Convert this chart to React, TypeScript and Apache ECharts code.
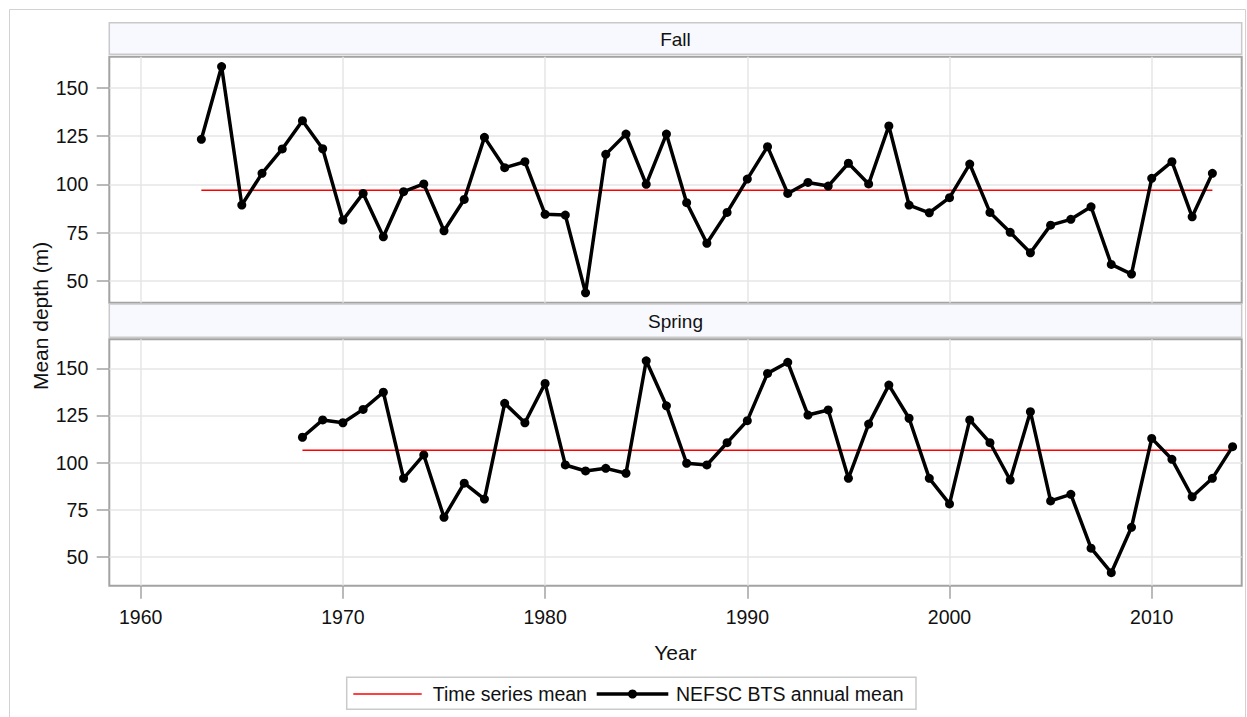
import React, { useEffect, useRef } from "react";
import * as echarts from "echarts";

const fallYears = [1963, 1964, 1965, 1966, 1967, 1968, 1969, 1970, 1971, 1972, 1973, 1974, 1975, 1976, 1977, 1978, 1979, 1980, 1981, 1982, 1983, 1984, 1985, 1986, 1987, 1988, 1989, 1990, 1991, 1992, 1993, 1994, 1995, 1996, 1997, 1998, 1999, 2000, 2001, 2002, 2003, 2004, 2005, 2006, 2007, 2008, 2009, 2010, 2011, 2012, 2013];
const fallDepth = [123.3, 160.9, 89.3, 105.7, 118.3, 132.9, 118.4, 81.5, 95.3, 72.9, 96.2, 100.2, 76.0, 92.2, 124.3, 108.6, 111.7, 84.5, 84.1, 43.9, 115.5, 126.0, 100.0, 126.0, 90.5, 69.5, 85.5, 102.7, 119.5, 95.3, 101.0, 99.1, 110.9, 100.2, 130.2, 89.3, 85.3, 93.1, 110.5, 85.5, 75.2, 64.6, 78.9, 81.9, 88.4, 58.6, 53.6, 103.1, 111.7, 83.2, 105.7];
const fallMean = 97.0;

const springYears = [1968, 1969, 1970, 1971, 1972, 1973, 1974, 1975, 1976, 1977, 1978, 1979, 1980, 1981, 1982, 1983, 1984, 1985, 1986, 1987, 1988, 1989, 1990, 1991, 1992, 1993, 1994, 1995, 1996, 1997, 1998, 1999, 2000, 2001, 2002, 2003, 2004, 2005, 2006, 2007, 2008, 2009, 2010, 2011, 2012, 2013, 2014];
const springDepth = [113.4, 122.6, 121.1, 128.2, 137.3, 91.6, 104.0, 70.9, 89.0, 80.6, 131.4, 121.1, 142.0, 98.7, 95.5, 96.9, 94.3, 154.0, 130.1, 99.6, 98.7, 110.5, 122.2, 147.3, 153.2, 125.2, 127.9, 91.6, 120.4, 141.1, 123.5, 91.6, 78.0, 122.6, 110.5, 90.7, 127.0, 79.6, 83.1, 54.5, 41.5, 65.6, 112.8, 101.7, 81.8, 91.6, 108.4];
const springMean = 106.5;

const xTicks = [1960, 1970, 1980, 1990, 2000, 2010];
const yTicks = [50, 75, 100, 125, 150];
const panelTitles = ["Fall", "Spring"];
const legendLabels = ["Time series mean", "NEFSC BTS annual mean"];
const xTitle = "Year";
const yTitle = "Mean depth (m)";

const FONT = "Liberation Sans, Arial, Helvetica, sans-serif";

export default function App() {
  const ref = useRef<HTMLDivElement>(null);
  useEffect(() => {
    if (!ref.current) return;
    const chart = echarts.init(ref.current, null, { renderer: "svg" });

    const pairs = (xs: number[], ys: number[]) => xs.map((x, i) => [x, ys[i]]);
    const meanLine = (xs: number[], m: number) => [[xs[0], m], [xs[xs.length - 1], m]];

    const L = 109.3, W = 1132.4;
    const grids = [
      { top: 56.7, height: 246 },
      { top: 339.3, height: 246.4 },
    ];
    const headers = [
      { y: 22.7, h: 31.6 },
      { y: 304, h: 33.3 },
    ];
    const yRanges = [
      { min: 38.8, max: 166.0 },
      { min: 34.6, max: 165.4 },
    ];
    const txt = "#111";
    const gridColor = "#E6E6E6";
    const frame = "#A3A3A3";

    const graphic: any[] = [
      {
        type: "rect", z: -10,
        shape: { x: 9.5, y: 9.5, width: 1236, height: 720 },
        style: { fill: "#fff", stroke: "#D2D2D2", lineWidth: 1 },
      },
    ];
    headers.forEach((h, i) => {
      graphic.push({
        type: "rect", z: 1,
        shape: { x: L, y: h.y, width: W, height: h.h },
        style: { fill: "#F8F9FE", stroke: "#C9C9C9", lineWidth: 1.5 },
      });
      graphic.push({
        type: "text", z: 2,
        style: {
          text: panelTitles[i], x: L + W / 2, y: h.y + h.h / 2 + 1,
          align: "center", verticalAlign: "middle",
          fontSize: 19, fontFamily: FONT, fill: txt,
        },
      });
    });
    graphic.push({
      type: "text",
      x: 40, y: 316, rotation: Math.PI / 2,
      style: {
        text: yTitle, x: 0, y: 0, align: "center", verticalAlign: "middle",
        fontSize: 21, fontFamily: FONT, fill: txt,
      },
    });
    graphic.push({
      type: "text",
      style: {
        text: xTitle, x: L + W / 2, y: 652, align: "center", verticalAlign: "middle",
        fontSize: 21, fontFamily: FONT, fill: txt,
      },
    });
    // legend
    const ly = 694;
    graphic.push({
      type: "rect",
      shape: { x: 346.7, y: 677.3, width: 569.3, height: 32 },
      style: { fill: "#fff", stroke: "#CACACA", lineWidth: 1.5 },
    });
    graphic.push({
      type: "line",
      shape: { x1: 353.3, y1: ly, x2: 421.7, y2: ly },
      style: { stroke: "#FF0000", lineWidth: 1.5 },
    });
    graphic.push({
      type: "text",
      style: {
        text: legendLabels[0], x: 432.7, y: ly, align: "left", verticalAlign: "middle",
        fontSize: 19.5, fontFamily: FONT, fill: "#111",
      },
    });
    graphic.push({
      type: "line",
      shape: { x1: 596.7, y1: ly, x2: 668.3, y2: ly },
      style: { stroke: "#000", lineWidth: 3.5 },
    });
    graphic.push({
      type: "circle",
      shape: { cx: 632.5, cy: ly, r: 4.5 },
      style: { fill: "#000" },
    });
    graphic.push({
      type: "text",
      style: {
        text: legendLabels[1], x: 676, y: ly, align: "left", verticalAlign: "middle",
        fontSize: 19.5, fontFamily: FONT, fill: "#111",
      },
    });

    const xAxis = grids.map((_, i) => ({
      type: "value",
      gridIndex: i,
      min: 1958.447,
      max: 2014.45,
      axisLine: { show: false },
      axisTick: {
        show: i === 1, length: 13, inside: false, customValues: xTicks,
        lineStyle: { color: frame, width: 1.5 },
      },
      axisLabel: {
        show: i === 1, customValues: xTicks, margin: 21,
        fontSize: 19.5, fontFamily: FONT, color: txt,
        formatter: (v: number) => String(v),
      },
      splitLine: { show: true, lineStyle: { color: gridColor, width: 1.5 } },
    }));
    const yAxis = grids.map((_, i) => ({
      type: "value",
      gridIndex: i,
      min: yRanges[i].min,
      max: yRanges[i].max,
      axisLine: { show: false },
      axisTick: {
        show: true, length: 12.6, customValues: yTicks,
        lineStyle: { color: frame, width: 1.5 },
      },
      axisLabel: {
        show: true, customValues: yTicks, margin: 21,
        fontSize: 19.5, fontFamily: FONT, color: txt,
        formatter: (v: number) => String(v),
      },
      splitLine: { show: true, lineStyle: { color: gridColor, width: 1.5 } },
    }));

    const sets = [
      { years: fallYears, vals: fallDepth, mean: fallMean },
      { years: springYears, vals: springDepth, mean: springMean },
    ];
    const series: any[] = [];
    sets.forEach((s, i) => {
      series.push({
        name: legendLabels[0], type: "line", xAxisIndex: i, yAxisIndex: i,
        data: meanLine(s.years, s.mean), symbol: "none",
        lineStyle: { color: "#FF0000", width: 1.5 }, z: 3, silent: true,
      });
      series.push({
        name: legendLabels[1], type: "line", xAxisIndex: i, yAxisIndex: i,
        data: pairs(s.years, s.vals), symbol: "circle", symbolSize: 9,
        itemStyle: { color: "#000" },
        lineStyle: { color: "#000", width: 3.5 }, z: 4, silent: true,
      });
    });

    chart.setOption({
      animation: false,
      backgroundColor: "#fff",
      grid: grids.map((g) => ({
        left: L, width: W, top: g.top, height: g.height,
        show: true, borderColor: frame, borderWidth: 2, backgroundColor: "#fff",
        containLabel: false, outerBoundsMode: "none",
      })),
      xAxis, yAxis, series, graphic,
    });
    return () => chart.dispose();
  }, []);
  return (
    <div
      ref={ref}
      style={{ position: "fixed", left: 0, top: 0, width: 1247, height: 717 }}
    />
  );
}
